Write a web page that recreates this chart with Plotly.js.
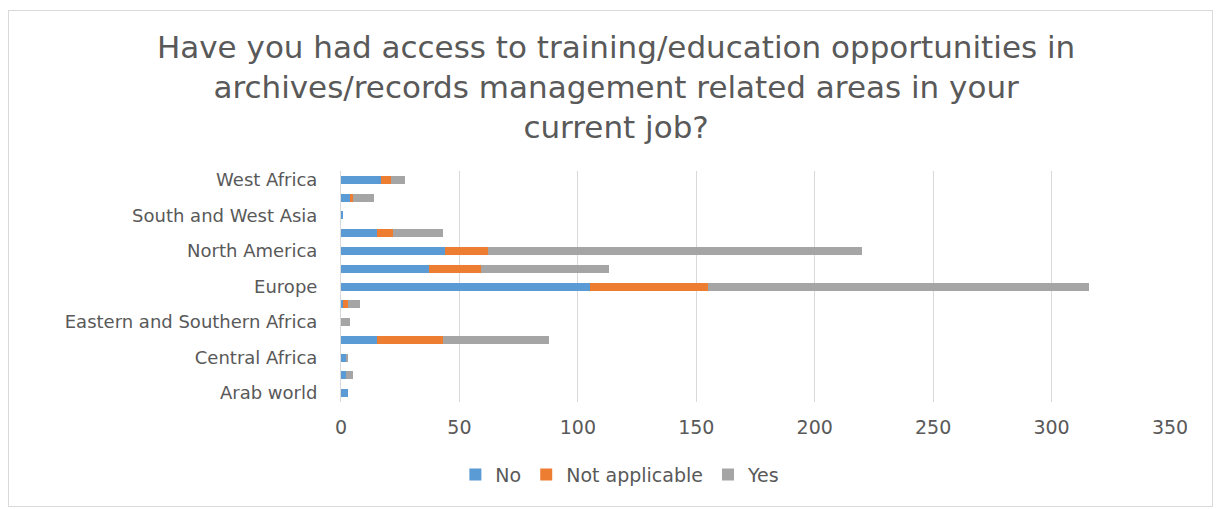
<!DOCTYPE html>
<html>
<head>
<meta charset="utf-8">
<script src="https://cdn.plot.ly/plotly-3.0.1.min.js"></script>
<style>
html,body{margin:0;padding:0;background:#fff;}
#wrap{position:relative;width:1220px;height:509px;}
#chart{width:1220px;height:509px;}
#frame{position:absolute;left:8px;top:10px;width:1203px;height:495px;border:1px solid #d9d9d9;pointer-events:none;}
</style>
</head>
<body>
<div id="wrap"><div id="chart"></div><div id="frame"></div></div>
<script>
const regions = ["Arab world","Caribbean","Central Africa","East Asia","Eastern and Southern Africa","Eastern Europe","Europe","Latin America","North America","Pacific","South and West Asia","Southeast Asia","West Africa"];
const shownLabels = ["Arab world","Central Africa","Eastern and Southern Africa","Europe","North America","South and West Asia","West Africa"];
const noVals = [3, 2, 2, 15, 0, 1, 105, 37, 44, 15, 1, 4, 17];
const notApplicableVals = [0, 0, 0, 28, 0, 2, 50, 22, 18, 7, 0, 1, 4];
const yesVals = [0, 3, 1, 45, 4, 5, 161, 54, 158, 21, 0, 9, 6];
const xTicks = [0, 50, 100, 150, 200, 250, 300, 350];

const font = "DejaVu Sans, sans-serif";
const txt = "#595959";
const mk = (name, vals, color) => ({type:"bar", orientation:"h", name:name, y:regions, x:vals, marker:{color:color}});
const data = [
  mk("No", noVals, "#5B9BD5"),
  mk("Not applicable", notApplicableVals, "#ED7D31"),
  mk("Yes", yesVals, "#A5A5A5")
];
const layout = {
  width:1220, height:509,
  margin:{l:341, r:50, t:171, b:107},
  paper_bgcolor:"#fff", plot_bgcolor:"#fff",
  barmode:"stack", bargap:0.55,
  font:{family:font, color:txt, size:18},
  title:{text:"Have you had access to training/education opportunities in<br>archives/records management related areas in your<br>current job?",
    font:{family:font, size:31, color:txt}, x:0.505, xanchor:"center", y:0.887, yanchor:"top", yref:"container"},
  xaxis:{range:[0,350], tickvals:xTicks, showgrid:true, gridcolor:"#d9d9d9", gridwidth:1, zeroline:false,
    showline:false, ticks:"outside", ticklen:8, tickcolor:"rgba(0,0,0,0)", tickfont:{size:19, color:txt}},
  yaxis:{type:"category", categoryorder:"array", categoryarray:regions, tickvals:shownLabels,
    showline:true, linecolor:"#d9d9d9", linewidth:1, showgrid:false, ticks:"outside", ticklen:19, tickcolor:"rgba(0,0,0,0)",
    tickfont:{size:18, color:txt}},
  showlegend:true,
  legend:{orientation:"h", x:0.337, xanchor:"center", y:-0.315, yanchor:"middle", font:{size:19, color:txt}, traceorder:"normal", itemwidth:30}
};
Plotly.newPlot("chart", data, layout, {displayModeBar:false, staticPlot:true});
</script>
</body>
</html>
